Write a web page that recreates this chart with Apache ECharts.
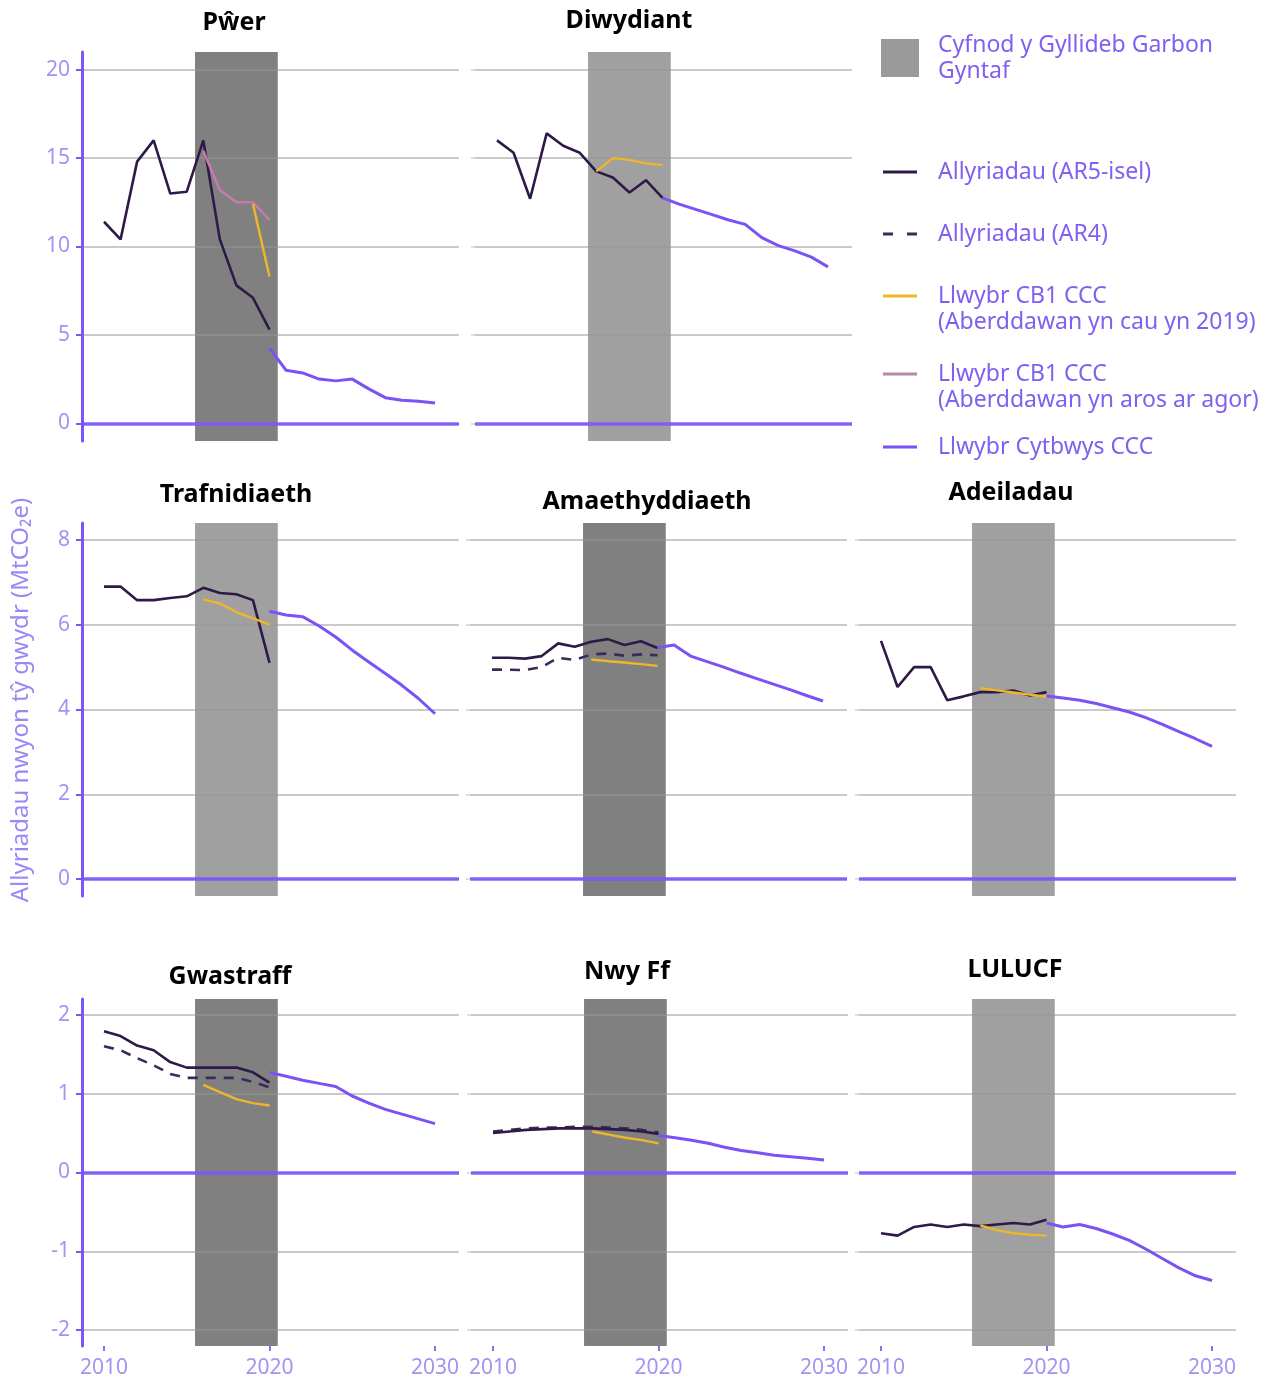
<!DOCTYPE html>
<html><head><meta charset="utf-8">
<script src="https://cdn.jsdelivr.net/npm/echarts@6/dist/echarts.min.js"></script>
<style>html,body{margin:0;padding:0;background:#fff}#c{width:1268px;height:1381px}</style>
</head><body><div id="c"></div>
<script>
// ---------- DATA ----------
const histYears = [2010, 2011, 2012, 2013, 2014, 2015, 2016, 2017, 2018, 2019, 2020];
const cb1Years = [2016, 2017, 2018, 2019, 2020];
const powerCloseYears = [2019, 2020];
const projYears = [2020, 2021, 2022, 2023, 2024, 2025, 2026, 2027, 2028, 2029, 2030];
const xTicks = [2010, 2020, 2030];
const yTicksTop = [0, 5, 10, 15, 20];
const yTicksMid = [0, 2, 4, 6, 8];
const yTicksBot = [-2, -1, 0, 1, 2];

const sectors = ['Pŵer', 'Diwydiant', 'Trafnidiaeth', 'Amaethyddiaeth', 'Adeiladau', 'Gwastraff', 'Nwy Ff', 'LULUCF'];

const powerAR5 = [11.4, 10.4, 14.8, 16.0, 13.0, 13.1, 16.0, 10.4, 7.8, 7.1, 5.3];
const powerCB1Open = [15.4, 13.2, 12.5, 12.5, 11.5];
const powerCB1Close = [12.4, 8.3];
const powerBalanced = [4.25, 3.0, 2.85, 2.5, 2.4, 2.5, 1.95, 1.45, 1.3, 1.25, 1.15];

const industryAR5 = [16.0, 15.3, 12.7, 16.4, 15.7, 15.3, 14.25, 13.9, 13.05, 13.75, 12.75];
const industryCB1 = [14.25, 15.0, 14.9, 14.7, 14.6];
const industryBalanced = [12.75, 12.4, 12.1, 11.8, 11.5, 11.25, 10.5, 10.05, 9.75, 9.4, 8.85];

const transportAR5 = [6.9, 6.9, 6.58, 6.58, 6.63, 6.67, 6.87, 6.75, 6.72, 6.58, 5.1];
const transportCB1 = [6.6, 6.5, 6.3, 6.15, 6.0];
const transportBalanced = [6.32, 6.23, 6.19, 5.97, 5.71, 5.4, 5.12, 4.85, 4.57, 4.26, 3.9];

const agriAR5 = [5.22, 5.22, 5.2, 5.26, 5.56, 5.48, 5.6, 5.66, 5.52, 5.61, 5.45];
const agriAR4 = [4.94, 4.94, 4.93, 5.0, 5.22, 5.17, 5.3, 5.32, 5.27, 5.3, 5.28];
const agriCB1 = [5.18, 5.14, 5.11, 5.07, 5.03];
const agriBalanced = [5.46, 5.52, 5.26, 5.13, 5.0, 4.86, 4.73, 4.6, 4.47, 4.33, 4.2];

const buildAR5 = [5.62, 4.53, 5.0, 5.0, 4.22, 4.31, 4.41, 4.41, 4.45, 4.33, 4.41];
const buildCB1 = [4.5, 4.45, 4.4, 4.35, 4.3];
const buildBalanced = [4.32, 4.27, 4.22, 4.14, 4.04, 3.94, 3.81, 3.65, 3.48, 3.31, 3.13];

const wasteAR5 = [1.79, 1.73, 1.61, 1.55, 1.4, 1.33, 1.33, 1.33, 1.33, 1.27, 1.14];
const wasteAR4 = [1.6, 1.55, 1.45, 1.36, 1.25, 1.2, 1.2, 1.2, 1.2, 1.15, 1.08];
const wasteCB1 = [1.11, 1.02, 0.93, 0.88, 0.85];
const wasteBalanced = [1.27, 1.22, 1.17, 1.13, 1.09, 0.97, 0.88, 0.8, 0.74, 0.68, 0.62];

const fgasAR5 = [0.5, 0.52, 0.54, 0.55, 0.56, 0.56, 0.56, 0.55, 0.54, 0.52, 0.49];
const fgasAR4 = [0.52, 0.54, 0.56, 0.57, 0.57, 0.58, 0.58, 0.57, 0.56, 0.54, 0.51];
const fgasCB1 = [0.52, 0.48, 0.44, 0.41, 0.37];
const fgasBalanced = [0.47, 0.44, 0.41, 0.37, 0.32, 0.28, 0.25, 0.22, 0.2, 0.18, 0.16];

const luAR5 = [-0.77, -0.8, -0.69, -0.66, -0.69, -0.66, -0.68, -0.66, -0.64, -0.66, -0.6];
const luCB1 = [-0.67, -0.73, -0.77, -0.79, -0.8];
const luBalanced = [-0.64, -0.69, -0.66, -0.71, -0.78, -0.86, -0.97, -1.09, -1.21, -1.31, -1.37];

const bandStart = 2015.5, bandEnd = 2020.5;

const NAME_BAND = 'Cyfnod y Gyllideb Garbon Gyntaf';
const NAME_AR5 = 'Allyriadau (AR5-isel)';
const NAME_AR4 = 'Allyriadau (AR4)';
const NAME_CLOSE = 'Llwybr CB1 CCC (Aberddawan yn cau yn 2019)';
const NAME_OPEN = 'Llwybr CB1 CCC (Aberddawan yn aros ar agor)';
const NAME_BAL = 'Llwybr Cytbwys CCC';
const Y_TITLE = 'Allyriadau nwyon tŷ gwydr (MtCO₂e)';

// ---------- STYLE / LAYOUT ----------
const FONT = 'Noto Sans';
const C_AR5 = '#2e1a47', C_AR5_BAND = '#38363c';
const C_AR4 = '#3b2b58';
const C_CLOSE = '#efb62a', C_OPEN = '#c67aab', C_BAL = '#7b52f5';
const C_AXIS = '#7b55f7', C_LABEL = '#a393f3', C_LEGEND = '#8060f0';
const BAND_DARK = '#808080', BAND_LIGHT = '#a0a0a0';

const rows = [
  {top: 52, height: 389, min: -1, max: 21, ticks: yTicksTop},
  {top: 523, height: 373, min: -0.4, max: 8.4, ticks: yTicksMid},
  {top: 999, height: 347, min: -2.2, max: 2.2, ticks: yTicksBot}
];
const W = 377, X_MIN = 2008.67, X_MAX = 2031.45;

const panels = [
  {row: 0, left: 82, band: BAND_DARK, cx: 234, cy: 23, ar5: powerAR5, cb1: powerCB1Close, cb1Y: powerCloseYears, open: powerCB1Open, bal: powerBalanced},
  {row: 0, left: 475, band: BAND_LIGHT, cx: 629, cy: 21, ar5: industryAR5, cb1: industryCB1, cb1Y: cb1Years, bal: industryBalanced},
  {row: 1, left: 82, band: BAND_LIGHT, cx: 236, cy: 495, ar5: transportAR5, cb1: transportCB1, cb1Y: cb1Years, bal: transportBalanced},
  {row: 1, left: 470, band: BAND_DARK, cx: 647, cy: 502, ar5: agriAR5, ar4: agriAR4, cb1: agriCB1, cb1Y: cb1Years, bal: agriBalanced},
  {row: 1, left: 859, band: BAND_LIGHT, cx: 1011, cy: 493, ar5: buildAR5, cb1: buildCB1, cb1Y: cb1Years, bal: buildBalanced},
  {row: 2, left: 82, band: BAND_DARK, cx: 230, cy: 977, ar5: wasteAR5, ar4: wasteAR4, cb1: wasteCB1, cb1Y: cb1Years, bal: wasteBalanced},
  {row: 2, left: 471, band: BAND_DARK, cx: 627, cy: 972, ar5: fgasAR5, ar4: fgasAR4, cb1: fgasCB1, cb1Y: cb1Years, bal: fgasBalanced},
  {row: 2, left: 859, band: BAND_LIGHT, cx: 1015, cy: 970, ar5: luAR5, cb1: luCB1, cb1Y: cb1Years, bal: luBalanced}
];

const zip = (xs, ys) => xs.map((x, i) => [x, ys[i]]);

const grid = [], xAxis = [], yAxis = [], series = [], darkIdx = [];
const graphic = [{type: 'text', x: 21, y: 700, rotation: Math.PI / 2, silent: true,
  style: {text: Y_TITLE, align: 'center', verticalAlign: 'middle', fill: '#9b87f5',
    font: '24px "' + FONT + '"'}}];

panels.forEach((p, i) => {
  const r = rows[p.row];
  const isLeft = p.left === 82;
  const isBottom = p.row === 2;
  grid.push({left: p.left, top: r.top, width: W, height: r.height});
  xAxis.push({
    gridIndex: i, type: 'value', min: X_MIN, max: X_MAX,
    axisLine: {show: false, onZero: false}, splitLine: {show: false},
    axisTick: {show: isBottom, customValues: xTicks, length: 5, lineStyle: {color: '#8a6ff5', width: 2}},
    axisLabel: {show: isBottom, customValues: xTicks, color: C_LABEL, fontSize: 21, fontFamily: FONT, margin: 12,
      formatter: v => String(Math.round(v))}
  });
  yAxis.push({
    gridIndex: i, type: 'value', min: r.min, max: r.max, z: 3,
    axisLine: {show: isLeft, onZero: false, lineStyle: {color: C_AXIS, width: 3}},
    axisTick: {show: true, customValues: r.ticks, length: isLeft ? 6 : 4,
      lineStyle: {color: isLeft ? C_AXIS : '#d4d4d4', width: isLeft ? 2 : 1.5}},
    axisLabel: {show: isLeft, customValues: r.ticks, color: C_LABEL, fontSize: 21, fontFamily: FONT, margin: 12},
    splitLine: {show: true, lineStyle: {color: 'rgba(150,150,150,0.5)', width: 2}}
  });

  // band (first carbon budget period)
  series.push({
    type: 'line', name: NAME_BAND, xAxisIndex: i, yAxisIndex: i, data: [], z: 1, silent: true,
    itemStyle: {color: '#9a9a9a'}, lineStyle: {color: '#9a9a9a'},
    markArea: {silent: true, itemStyle: {color: p.band}, data: [[{xAxis: bandStart}, {xAxis: bandEnd}]]}
  });
  const base = {type: 'line', xAxisIndex: i, yAxisIndex: i, symbol: 'none', silent: true, z: 5};
  if (p.ar4) {
    darkIdx.push(series.length);
    series.push(Object.assign({}, base, {name: NAME_AR4, data: zip(histYears, p.ar4),
      lineStyle: {color: C_AR4, width: 2.6, type: [10, 8]}, itemStyle: {color: C_AR4}}));
  }
  darkIdx.push(series.length);
  series.push(Object.assign({}, base, {name: NAME_AR5, data: zip(histYears, p.ar5),
    lineStyle: {color: C_AR5, width: 2.6}, itemStyle: {color: C_AR5}}));
  if (p.open) {
    series.push(Object.assign({}, base, {name: NAME_OPEN, data: zip(cb1Years, p.open),
      lineStyle: {color: C_OPEN, width: 2.6}, itemStyle: {color: C_OPEN}}));
  }
  series.push(Object.assign({}, base, {name: NAME_CLOSE, data: zip(p.cb1Y, p.cb1),
    lineStyle: {color: C_CLOSE, width: 2.4}, itemStyle: {color: C_CLOSE}}));
  series.push(Object.assign({}, base, {name: NAME_BAL, data: zip(projYears, p.bal),
    lineStyle: {color: C_BAL, width: 3}, itemStyle: {color: C_BAL},
    markLine: {silent: true, symbol: ['none', 'none'], label: {show: false},
      lineStyle: {color: C_AXIS, width: 3.5, type: 'solid', opacity: 0.9}, data: [{yAxis: 0}]}}));

  graphic.push({type: 'text', x: p.cx, y: p.cy, silent: true,
    style: {text: sectors[i], align: 'center', verticalAlign: 'middle', fill: '#000',
      font: 'bold 25px "' + FONT + '"'}});
});

// ---------- LEGEND ----------
const legendLabels = {};
legendLabels[NAME_BAND] = 'Cyfnod y Gyllideb Garbon\nGyntaf';
legendLabels[NAME_AR5] = NAME_AR5;
legendLabels[NAME_AR4] = NAME_AR4;
legendLabels[NAME_CLOSE] = 'Llwybr CB1 CCC\n(Aberddawan yn cau yn 2019)';
legendLabels[NAME_OPEN] = 'Llwybr CB1 CCC\n(Aberddawan yn aros ar agor)';
legendLabels[NAME_BAL] = NAME_BAL;

const lineIcon = 'path://M0,0h34v3h-34z';
const dashIcon = 'path://M0,0h10v3h-10zM24,0h10v3h-10z';
// line drawn at the top of a taller icon box so it aligns with the first text line
const topLineIcon = 'path://M0,0h34v3h-34zM0,28.99h0.01v0.01h-0.01z';
const legendItems = [
  {name: NAME_BAND, top: 32, left: 881, icon: 'rect', w: 38, h: 38, color: '#9a9a9a', pad: [0, 0, 0, 14]},
  {name: NAME_AR5, top: 159, left: 883, icon: lineIcon, w: 34, h: 3, color: C_AR5, pad: [0, 0, 0, 16]},
  {name: NAME_AR4, top: 221, left: 883, icon: dashIcon, w: 34, h: 3, color: C_AR4, pad: [0, 0, 0, 16]},
  {name: NAME_CLOSE, top: 283, left: 883, icon: topLineIcon, w: 34, h: 29, color: C_CLOSE, pad: [0, 0, 0, 16]},
  {name: NAME_OPEN, top: 361, left: 883, icon: topLineIcon, w: 34, h: 29, color: '#b48aa8', pad: [0, 0, 0, 16]},
  {name: NAME_BAL, top: 434, left: 883, icon: lineIcon, w: 34, h: 3, color: C_BAL, pad: [0, 0, 0, 16]}
];
const legend = legendItems.map(it => ({
  left: it.left, top: it.top, orient: 'vertical', padding: 0, selectedMode: false,
  itemWidth: it.w, itemHeight: it.h,
  data: [{name: it.name, icon: it.icon, itemStyle: {color: it.color, borderWidth: 0}}],
  formatter: n => legendLabels[n],
  textStyle: {color: C_LEGEND, fontSize: 23, fontFamily: FONT, lineHeight: 26, padding: it.pad}
}));

const chart = echarts.init(document.getElementById('c'), null, {renderer: 'canvas'});
chart.setOption({
  animation: false,
  backgroundColor: '#fff',
  grid, xAxis, yAxis, series, legend, graphic,
  visualMap: [{type: 'piecewise', show: false, dimension: 0, seriesIndex: darkIdx,
    pieces: [{gte: 2000, lt: bandStart, color: C_AR5}, {gte: bandStart, lte: 2040, color: C_AR5_BAND}]}]
});
</script>
</body></html>
